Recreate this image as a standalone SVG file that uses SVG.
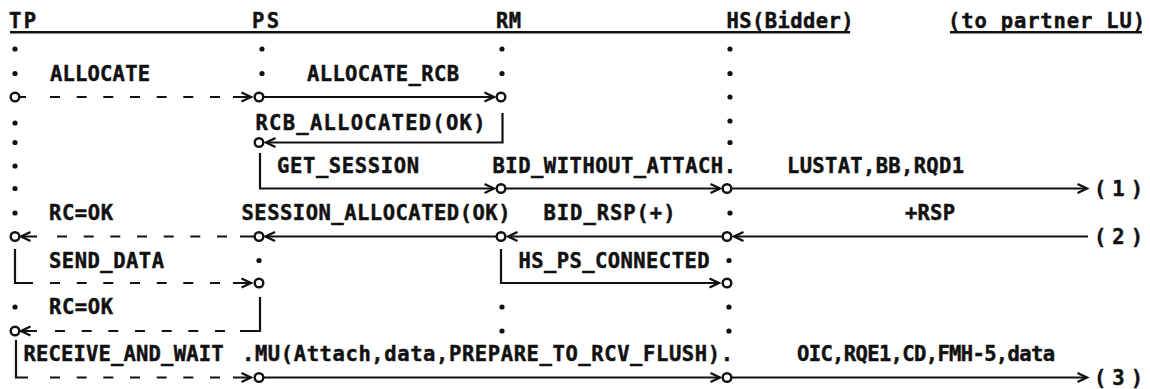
<svg xmlns="http://www.w3.org/2000/svg" width="1150" height="389" viewBox="0 0 1150 389">
<defs>
<style>
text{font-family:"DejaVu Sans Mono","Liberation Mono",monospace;font-weight:bold;font-size:20.5px;fill:#111;stroke:#111;stroke-width:0.45}
.ln{fill:none;stroke:#111;stroke-width:2.2}
.arr{marker-end:url(#ah)}
.pt{fill:#fff;stroke:#111;stroke-width:2.4}
.dot{fill:#111}
.ul{stroke:#111;stroke-width:2.6}
</style>
<marker id="ah" markerUnits="userSpaceOnUse" markerWidth="14" markerHeight="14" refX="10" refY="5" orient="auto" overflow="visible">
<path d="M0.5,0.5 L10,5 L0.5,9.5" fill="none" stroke="#111" stroke-width="2.3"/>
</marker>
</defs>
<rect width="1150" height="389" fill="#fff"/>
<g id="header-rule">
<line class="ul" x1="10" y1="32.3" x2="850" y2="32.3"/>
<line class="ul" x1="950" y1="32.3" x2="1142" y2="32.3"/>
</g>
<g id="connectors">
<g id="c1"><path class="ln arr" d="M19.5 97H26 M50 97h10 M76.7 97h10 M103.3 97h10 M130 97h10 M156.7 97h10 M183.3 97h10 M210 97h10 M233 97H251"/><text x="50" y="80.8" textLength="100">ALLOCATE</text></g>
<g id="c2"><path class="ln arr" d="M263.5 97H494"/><text x="307" y="80.8" textLength="152">ALLOCATE_RCB</text></g>
<g id="c3"><path class="ln arr" d="M502.5 113V142.5H266"/><text x="255.5" y="130" textLength="230">RCB_ALLOCATED(OK)</text></g>
<g id="c4"><path class="ln arr" d="M260 153V188.5H494"/><text x="277" y="173.3" textLength="142">GET_SESSION</text></g>
<g id="c5"><path class="ln arr" d="M505.5 188.5H720"/><text x="492.5" y="173.3" textLength="243.5">BID_WITHOUT_ATTACH.</text></g>
<g id="c6"><path class="ln arr" d="M731.5 188.5H1087"/><text x="787" y="173.3" textLength="177">LUSTAT,BB,RQD1</text><text x="1094" y="195.8" textLength="49">(1)</text></g>
<g id="c7"><path class="ln arr" d="M1088 236.5H734"/><text x="905" y="220.3" textLength="50">+RSP</text><text x="1094" y="243.8" textLength="49">(2)</text></g>
<g id="c8"><path class="ln arr" d="M722.5 236.5H508"/><text x="543.5" y="220.3" textLength="132">BID_RSP(+)</text></g>
<g id="c9"><path class="ln arr" d="M496.5 236.5H265.5"/><text x="241.5" y="220.3" textLength="269">SESSION_ALLOCATED(OK)</text></g>
<g id="c10"><path class="ln arr" d="M254.5 236.5H240 M227 236.5h-10 M200.3 236.5h-10 M173.7 236.5h-10 M147 236.5h-10 M120.3 236.5h-10 M93.7 236.5h-10 M67 236.5h-10 M37 236.5H21"/><text x="49" y="220.3" textLength="64">RC=OK</text></g>
<g id="c11"><path class="ln arr" d="M15 249V283H33 M50 283h10 M76.7 283h10 M103.3 283h10 M130 283h10 M156.7 283h10 M183.3 283h10 M210 283h10 M233 283H251"/><text x="49" y="267.8" textLength="115">SEND_DATA</text></g>
<g id="c12"><path class="ln arr" d="M501 249V283H719"/><text x="518.5" y="267.8" textLength="191">HS_PS_CONNECTED</text></g>
<g id="c13"><path class="ln arr" d="M260 297V331H240 M225 331h-10 M198.3 331h-10 M171.7 331h-10 M145 331h-10 M118.3 331h-10 M91.7 331h-10 M65 331h-10 M37 331H21"/><text x="49" y="314.3" textLength="64">RC=OK</text></g>
<g id="c14"><path class="ln arr" d="M16 340V377.5H28 M50 377.5h10 M76.7 377.5h10 M103.3 377.5h10 M130 377.5h10 M156.7 377.5h10 M183.3 377.5h10 M210 377.5h10 M233 377.5H251"/><text x="23.5" y="361.3" textLength="200">RECEIVE_AND_WAIT</text></g>
<g id="c15"><path class="ln arr" d="M263.5 377.5H720"/><text x="242" y="361.3" textLength="491">.MU(Attach,data,PREPARE_TO_RCV_FLUSH).</text></g>
<g id="c16"><path class="ln arr" d="M731.5 377.5H1087"/><text x="797" y="361.3" textLength="258">OIC,RQE1,CD,FMH-5,data</text><text x="1094" y="384.8" textLength="49">(3)</text></g>
</g>
<g id="tp">
<text x="9" y="28" textLength="27">TP</text>
<g class="dot"><circle cx="15" cy="49" r="2.6"/><circle cx="15" cy="73.5" r="2.6"/><circle cx="15" cy="123" r="2.6"/><circle cx="15" cy="142.5" r="2.6"/><circle cx="15" cy="166" r="2.6"/><circle cx="15" cy="188.5" r="2.6"/><circle cx="15" cy="213" r="2.6"/><circle cx="15" cy="307" r="2.6"/></g>
<circle class="pt" cx="15" cy="97" r="4.3"/><circle class="pt" cx="15" cy="236.5" r="4.3"/><circle class="pt" cx="15" cy="331" r="4.3"/>
</g>
<g id="ps">
<text x="252" y="28" textLength="27">PS</text>
<g class="dot"><circle cx="262" cy="49" r="2.6"/><circle cx="262" cy="73.5" r="2.6"/><circle cx="259" cy="260.5" r="2.6"/></g>
<circle class="pt" cx="259" cy="97" r="4.3"/><circle class="pt" cx="259" cy="142.5" r="4.3"/><circle class="pt" cx="259" cy="236.5" r="4.3"/><circle class="pt" cx="259" cy="283" r="4.3"/><circle class="pt" cx="259" cy="377.5" r="4.3"/>
</g>
<g id="rm">
<text x="496" y="28" textLength="25">RM</text>
<g class="dot"><circle cx="502" cy="49" r="2.6"/><circle cx="502" cy="73.5" r="2.6"/><circle cx="502" cy="307" r="2.6"/><circle cx="502" cy="331" r="2.6"/></g>
<circle class="pt" cx="501" cy="97" r="4.3"/><circle class="pt" cx="501" cy="188.5" r="4.3"/><circle class="pt" cx="501" cy="236.5" r="4.3"/>
</g>
<g id="hs">
<text x="726.5" y="28" textLength="127">HS(Bidder)</text>
<g class="dot"><circle cx="730" cy="49" r="2.6"/><circle cx="730" cy="73.5" r="2.6"/><circle cx="730" cy="97" r="2.6"/><circle cx="730" cy="121" r="2.6"/><circle cx="730" cy="142.5" r="2.6"/><circle cx="730" cy="213" r="2.6"/><circle cx="729" cy="260.5" r="2.6"/><circle cx="729" cy="307" r="2.6"/><circle cx="729" cy="331" r="2.6"/></g>
<circle class="pt" cx="727" cy="188.5" r="4.3"/><circle class="pt" cx="727" cy="236.5" r="4.3"/><circle class="pt" cx="727" cy="283" r="4.3"/><circle class="pt" cx="727" cy="377.5" r="4.3"/>
</g>
<g id="partner">
<text x="948" y="28" textLength="197">(to partner LU)</text>
</g>
</svg>
